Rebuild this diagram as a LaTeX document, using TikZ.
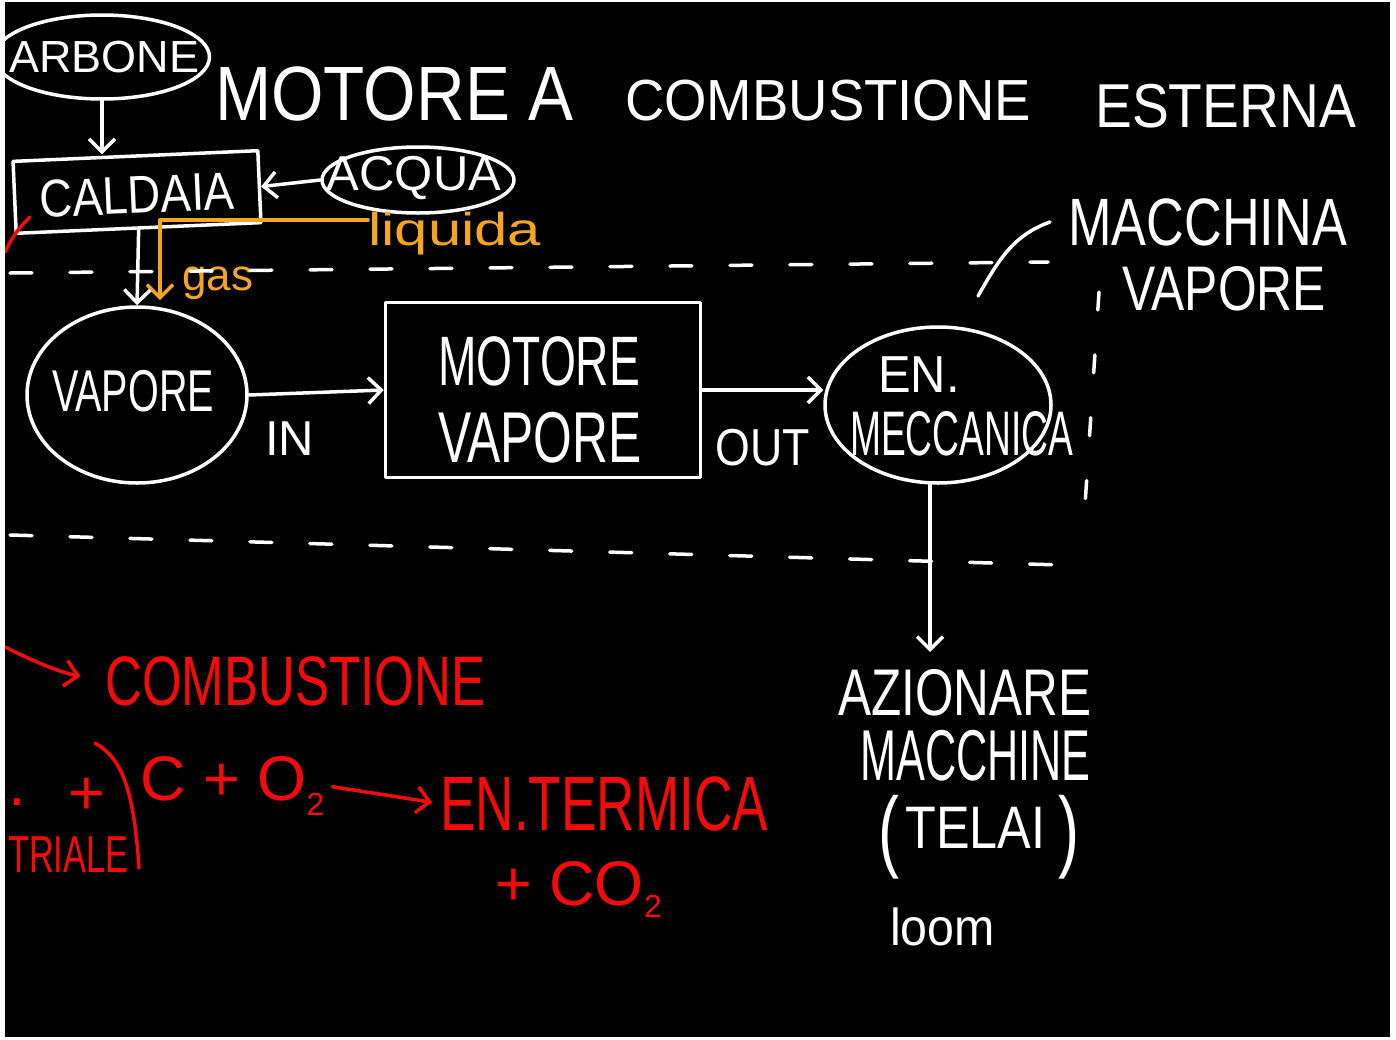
\documentclass[tikz,border=0pt]{standalone}
\usepackage{fontspec}
\setmainfont{Liberation Sans}
\usetikzlibrary{arrows.meta,shapes.geometric}
\definecolor{hwred}{RGB}{245,10,10}
\definecolor{hworange}{RGB}{245,165,30}
\newcommand\hw[3]{\scalebox{#2}[1]{\fontsize{#1}{#1}\selectfont #3}}
\begin{document}
\begin{tikzpicture}[x=1pt,y=-1pt,
  ink/.style={line width=3.5pt,line cap=round,line join=round,draw=white},
  rink/.style={ink,draw=hwred},
  oink/.style={ink,draw=hworange},
  hwarrow/.style={-{Straight Barb[length=13pt,width=26pt]}},
  txt/.style={inner sep=0pt,text=white,anchor=base west},
  rtxt/.style={txt,text=hwred},
  otxt/.style={txt,text=hworange},
  oval/.style={ellipse,ink,inner sep=0pt},
  box/.style={rectangle,ink,inner sep=0pt},
  dashline/.style={ink,dash pattern=on 22pt off 38pt}]
\useasboundingbox (0,0) rectangle (1396,1039);
\fill[white] (0,0) rectangle (1396,1039);
\fill[black] (5,2) rectangle (1390,1037);
\begin{scope}
\clip (5,2) rectangle (1390,1037);
% ---- top-left: carbone, caldaia, acqua
\node[oval,minimum width=215,minimum height=84] (carbone) at (102,57) {};
\node[txt] (carboneT) at (9,72) {\hw{45}{1.0}{ARBONE}};
\node[box,minimum width=245,minimum height=72,rotate=2.5] (caldaia) at (137,192) {};
\node[inner sep=0pt,text=white,rotate=2.5] (caldaiaT) at (137,195) {\hw{53}{0.86}{CALDAIA}};
\node[oval,minimum width=192,minimum height=66] (acqua) at (418,180) {};
\node[inner sep=0pt,text=white] (acquaT) at (414,178) {\hw{49}{1.0}{ACQUA}};
\draw[ink,hwarrow] (carbone.south) -- (carbone.south |- caldaia.north);
\draw[ink,hwarrow] (acqua.west) -- (caldaia.east);
% ---- title
\node[txt] (title1) at (215,120) {\hw{77}{0.876}{MOTORE A}};
\node[txt] (title2) at (625,120) {\hw{58}{0.94}{COMBUSTIONE}};
\node[txt] (title3) at (1095,127) {\hw{62}{0.89}{ESTERNA}};
% ---- liquida / gas
\node[otxt] (liquida) at (368,245) {\hw{46}{1.3}{liquida}};
\node[otxt] (gas) at (182,290) {\hw{44}{1.0}{gas}};
\coordinate (gasTip) at (160,300);
\draw[oink,hwarrow] ([yshift=13pt]liquida.west) -| (gasTip);
% ---- main row
\node[oval,minimum width=220,minimum height=176] (vapore) at (137,395) {};
\node[inner sep=0pt,text=white] (vaporeT) at (133,391) {\hw{59}{0.67}{VAPORE}};
\draw[ink,hwarrow] (caldaia.south) -- (vapore.north);
\node[box,minimum width=315,minimum height=175] (motor) at (543,390) {};
\node[txt] (motorT1) at (438,385) {\hw{70}{0.66}{MOTORE}};
\node[txt] (motorT2) at (438,462) {\hw{72}{0.69}{VAPORE}};
\node[txt] (inT) at (265,455) {\hw{49}{1.0}{IN}};
\node[txt] (outT) at (715,465) {\hw{52}{0.86}{OUT}};
\node[oval,minimum width=226,minimum height=156] (enmecc) at (938,405) {};
\node[txt] (enT1) at (878,392) {\hw{52}{0.94}{EN.}};
\node[txt] (enT2) at (850,455) {\hw{63}{0.59}{MECCANICA}};
\draw[ink,hwarrow] (vapore.east) -- (motor.west);
\draw[ink,hwarrow] (motor.east) -- (enmecc.west |- motor.east);
% ---- macchina a vapore
\node[txt] (macchina) at (1068,245) {\hw{67}{0.78}{MACCHINA}};
\node[txt] (macchina2) at (1122,310) {\hw{63}{0.79}{VAPORE}};
\coordinate (mvStart) at (978,296);
\draw[ink] (mvStart) to[out=60,in=200] ([xshift=-18pt]macchina.west);
% ---- dashed frame
\draw[dashline] (10,273) -- (1048,262);
\draw[dashline] (10,535) -- (1062,565);
\draw[ink,dash pattern=on 18pt off 45pt] (1099,292) -- (1085,505);
% ---- azionare
\node[txt] (azionare) at (838,715) {\hw{66}{0.75}{AZIONARE}};
\node[txt] (macchine) at (860,780) {\hw{72}{0.6}{MACCHINE}};
\node[txt] (lpar) at (878,860) {\hw{90}{0.7}{(}};
\node[txt] (telai) at (905,848) {\hw{60}{0.84}{TELAI}};
\node[txt] (rpar) at (1058,860) {\hw{90}{0.7}{)}};
\node[txt] (loom) at (890,945) {\hw{52}{0.93}{loom}};
\coordinate (azTop) at (930,652);
\draw[ink,hwarrow] ([xshift=-8pt]enmecc.south) -- (azTop);
% ---- red part
\draw[rink] (5,252) to[bend left=10] (30,217);
\node[rtxt] (combust) at (105,705) {\hw{70}{0.73}{COMBUSTIONE}};
\coordinate (redIn) at (5,647);
\draw[rink,hwarrow,shorten >=25pt] (redIn) to[bend right=8] (combust.west);
\draw[rink] (95,743) .. controls (122,758) and (134,790) .. (139,868);
\node[rtxt] (formula) at (140,800) {\hw{63}{1.0}{C + O\raisebox{-15pt}{\fontsize{32}{32}\selectfont 2}}};
\node[rtxt] (termica) at (440,830) {\hw{77}{0.69}{EN.TERMICA}};
\draw[rink,hwarrow,shorten <=8pt,shorten >=8pt] (formula.east) -- (termica.west);
\node[rtxt] (co2) at (495,905) {\hw{63}{1.0}{+ CO\raisebox{-12pt}{\fontsize{32}{32}\selectfont 2}}};
\node[rtxt] (dotL) at (8,805) {\hw{63}{1.0}{.}};
\node[rtxt] (plusL) at (68,814) {\hw{63}{1.0}{+}};
\node[rtxt] (triale) at (8,872) {\hw{52}{0.66}{TRIALE}};
\end{scope}
\end{tikzpicture}
\end{document}
